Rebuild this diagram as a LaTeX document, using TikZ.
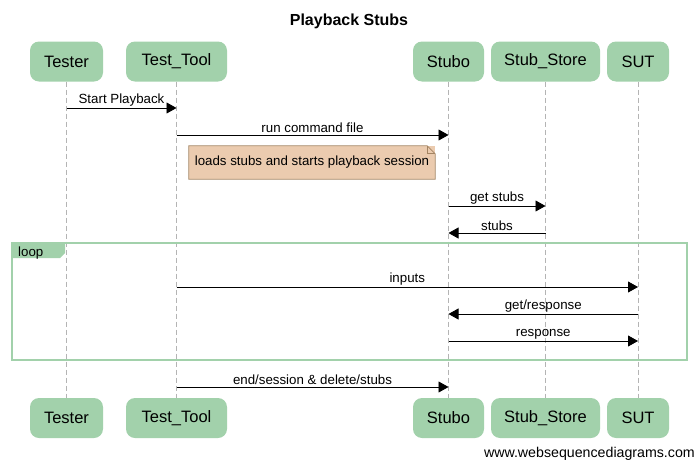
\documentclass[tikz,border=0pt]{standalone}
\usepackage{fontspec}
\setmainfont{Liberation Sans}
\usetikzlibrary{arrows.meta}
\definecolor{boxgreen}{HTML}{A2D1AB}
\definecolor{notefill}{HTML}{EBCBAF}
\definecolor{notedraw}{HTML}{A38462}
\definecolor{lifegray}{HTML}{B4B4B4}
\begin{document}
\begin{tikzpicture}[x=1pt,y=-1pt,
  part/.style={fill=boxgreen,draw=none,rounded corners=9pt,minimum height=40pt,inner sep=0pt,font=\fontsize{16.5}{18}\selectfont},
  msg/.style={draw=black,line width=0.9pt,-{Triangle[length=10pt,width=11pt]}},
  lbl/.style={font=\fontsize{13.3}{15}\selectfont,inner sep=0pt},
  life/.style={draw=lifegray,dash pattern=on 5pt off 3pt,line width=0.8pt}]
\useasboundingbox (0,0) rectangle (697,461);
\node[font=\bfseries\fontsize{16}{18}\selectfont] (title) at (349,21) {Playback Stubs};
% top participants
\node[part,minimum width=73pt] (tester) at (66.5,61.5) {Tester};
\node[part,minimum width=101pt] (tool) at (176.5,61.5) {Test\_Tool};
\node[part,minimum width=71pt] (stubo) at (448.5,61.5) {Stubo};
\node[part,minimum width=109pt] (store) at (545.5,61.5) {Stub\_Store};
\node[part,minimum width=62pt] (sut) at (638,61.5) {SUT};
% bottom participants
\node[part,minimum width=73pt] (testerB) at (66.5,418) {Tester};
\node[part,minimum width=101pt] (toolB) at (176.5,418) {Test\_Tool};
\node[part,minimum width=71pt] (stuboB) at (448.5,418) {Stubo};
\node[part,minimum width=109pt] (storeB) at (545.5,418) {Stub\_Store};
\node[part,minimum width=62pt] (sutB) at (638,418) {SUT};
% lifelines
\draw[life] (tester.south) -- (testerB.north);
\draw[life] (tool.south) -- (toolB.north);
\draw[life] (stubo.south) -- (stuboB.north);
\draw[life] (store.south) -- (storeB.north);
\draw[life] (sut.south) -- (sutB.north);
% loop frame
\node[draw=boxgreen,line width=2pt,minimum width=675pt,minimum height=117pt,inner sep=0pt] (loopframe) at (349.5,301.5) {};
\fill[boxgreen] (loopframe.north west) -- ++(54,0) -- ++(0,11) -- ++(-5,5) -- ++(-49,0) -- cycle;
\node[lbl,anchor=west] (looplbl) at (18,253) {loop};
% messages
\draw[msg] (tester |- 0,108) -- node[lbl,above=1.5pt] (l1) {Start Playback} (tool |- 0,108);
\draw[msg] (tool |- 0,135) -- node[lbl,above=1.5pt] (l2) {run command file} (stubo |- 0,135);
% note
\node[fill=notefill,draw=none,minimum width=246pt,minimum height=33pt,inner sep=0pt,font=\fontsize{13.3}{15}\selectfont] (note) at (312,162.5) {loads stubs and starts playback session};
\draw[notedraw,line width=0.8pt] (note.north west) -- ([xshift=-8pt]note.north east) -- ([yshift=-8pt]note.north east) -- (note.south east) -- (note.south west) -- cycle;
\draw[notedraw,line width=0.8pt] ([xshift=-8pt]note.north east) -- ([xshift=-8pt,yshift=-8pt]note.north east) -- ([yshift=-8pt]note.north east);
\draw[msg] (stubo |- 0,206) -- node[lbl,above=1.5pt] (l3) {get stubs} (store |- 0,206);
\draw[msg] (store |- 0,233) -- node[lbl,above=1.5pt] (l4) {stubs} (stubo |- 0,233);
\draw[msg] (tool |- 0,287) -- node[lbl,above=1.5pt] (l5) {inputs} (sut |- 0,287);
\draw[msg] (sut |- 0,314) -- node[lbl,above=1.5pt] (l6) {get/response} (stubo |- 0,314);
\draw[msg] (stubo |- 0,341) -- node[lbl,above=1.5pt] (l7) {response} (sut |- 0,341);
\draw[msg] (tool |- 0,387) -- node[lbl,above=1.5pt] (l8) {end/session \& delete/stubs} (stubo |- 0,387);
\node[anchor=east,font=\fontsize{14.2}{16}\selectfont,inner sep=0pt] (wm) at (695,454) {www.websequencediagrams.com};
\end{tikzpicture}
\end{document}
